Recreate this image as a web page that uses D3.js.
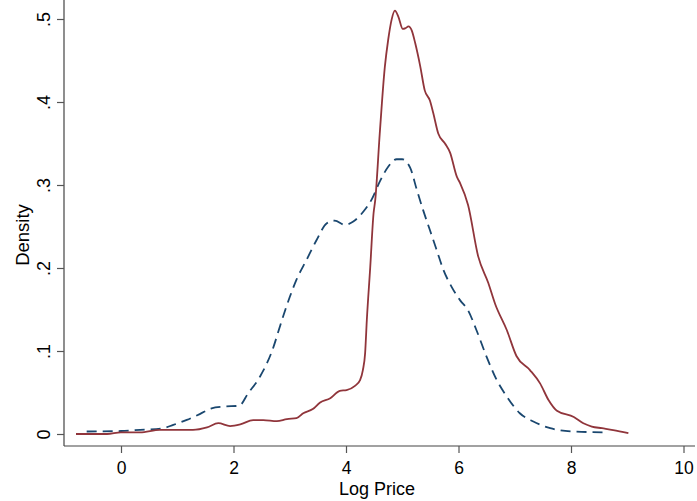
<!DOCTYPE html>
<html>
<head>
<meta charset="utf-8">
<script src="https://cdn.jsdelivr.net/npm/d3@7"></script>
<style>
  body { margin: 0; background: #fff; }
  svg { display: block; font-family: "Liberation Sans", Arial, sans-serif; }
</style>
</head>
<body>
<div id="chart"></div>
<script>
// Kernel density of log price, two groups
const redX = [-0.8, -0.25, 0, 0.34, 0.69, 1.0, 1.28, 1.53, 1.73, 1.94, 2.12, 2.35, 2.53, 2.77, 2.95,
  3.12, 3.24, 3.41, 3.54, 3.72, 3.89, 4.01, 4.16, 4.25, 4.3, 4.34, 4.37, 4.43, 4.49, 4.52, 4.6,
  4.69, 4.75, 4.81, 4.87, 4.93, 5.01, 5.06, 5.11, 5.17, 5.23, 5.32, 5.4, 5.49, 5.55, 5.64, 5.76,
  5.85, 5.97, 6.03, 6.17, 6.35, 6.53, 6.65, 6.86, 7.03, 7.27, 7.45, 7.6, 7.75, 8.05, 8.22, 8.37,
  8.55, 8.75, 9.02];
const redY = [0.0, 0.0, 0.002, 0.002, 0.005, 0.005, 0.005, 0.008, 0.013, 0.0096, 0.0115, 0.0167, 0.0168, 0.0155, 0.018,
  0.019, 0.025, 0.030, 0.038, 0.043, 0.052, 0.053, 0.058, 0.065, 0.077, 0.0975, 0.137, 0.2, 0.266, 0.282, 0.362,
  0.442, 0.475, 0.499, 0.51, 0.503, 0.488, 0.489, 0.491, 0.486, 0.471, 0.443, 0.414, 0.402, 0.387, 0.362, 0.35,
  0.339, 0.31, 0.302, 0.276, 0.214, 0.182, 0.157, 0.125, 0.094, 0.077, 0.061, 0.041, 0.028, 0.0205, 0.013, 0.009,
  0.007, 0.0048, 0.001];

const blueX = [-0.61, 0, 0.34, 0.75, 0.93, 1.17, 1.4, 1.61, 1.82, 2.1, 2.26, 2.47, 2.68, 2.86, 3.0,
  3.12, 3.3, 3.48, 3.66, 3.8, 3.98, 4.13, 4.31, 4.46, 4.6, 4.75, 4.9, 5.0, 5.14, 5.26, 5.37,
  5.49, 5.61, 5.73, 5.88, 6.03, 6.17, 6.32, 6.5, 6.68, 6.86, 7.09, 7.33, 7.63, 8.04, 8.6];
const blueY = [0.003, 0.0036, 0.005, 0.007, 0.011, 0.017, 0.024, 0.031, 0.033, 0.034, 0.049, 0.069, 0.099, 0.137, 0.165,
  0.186, 0.21, 0.234, 0.254, 0.257, 0.252, 0.256, 0.268, 0.283, 0.304, 0.322, 0.331, 0.331, 0.321, 0.294, 0.27,
  0.246, 0.222, 0.198, 0.177, 0.161, 0.149, 0.125, 0.093, 0.065, 0.045, 0.025, 0.015, 0.007, 0.003, 0.002];

const xTicks = [0, 2, 4, 6, 8, 10];
const yTicks = [0, 0.1, 0.2, 0.3, 0.4, 0.5];

const width = 697, height = 501;
const axisX = 64, axisY = 446;

const svg = d3.select('#chart').append('svg')
  .attr('width', width)
  .attr('height', height);

svg.append('rect').attr('width', width).attr('height', height).attr('fill', '#fff');

const x = d3.scaleLinear().domain([0, 10]).range([121, 683.5]);
const y = d3.scaleLinear().domain([0, 0.5]).range([434, 19]);

const line = d3.line()
  .x(d => x(d[0]))
  .y(d => y(d[1]))
  .curve(d3.curveMonotoneX);

// axis lines
svg.append('line')
  .attr('x1', axisX).attr('x2', axisX).attr('y1', 0).attr('y2', axisY)
  .attr('stroke', '#444').attr('stroke-width', 1.2);
svg.append('line')
  .attr('x1', axisX).attr('x2', 695).attr('y1', axisY).attr('y2', axisY)
  .attr('stroke', '#444').attr('stroke-width', 1.2);

// y axis
const yAxis = svg.append('g')
  .attr('transform', `translate(${axisX},0)`)
  .call(d3.axisLeft(y).tickValues(yTicks).tickSize(7).tickSizeOuter(0)
    .tickFormat(d => d === 0 ? '0' : d3.format('.1f')(d).replace(/^0/, '')));
yAxis.select('.domain').remove();
yAxis.selectAll('.tick line').attr('stroke', '#555').attr('stroke-width', 1.2);
yAxis.selectAll('.tick text')
  .attr('x', 0).attr('y', -14).attr('dy', 0)
  .attr('transform', 'rotate(-90)')
  .attr('text-anchor', 'middle')
  .attr('fill', '#000')
  .style('font-size', '18px');

// x axis
const xAxis = svg.append('g')
  .attr('transform', `translate(0,${axisY})`)
  .call(d3.axisBottom(x).tickValues(xTicks).tickSize(7).tickSizeOuter(0).tickFormat(d3.format('d')));
xAxis.select('.domain').remove();
xAxis.selectAll('.tick line').attr('stroke', '#555').attr('stroke-width', 1.2);
xAxis.selectAll('.tick text')
  .attr('y', 27.5).attr('dy', 0)
  .attr('fill', '#000')
  .style('font-size', '17.5px');

// axis titles
svg.append('text')
  .attr('x', 377).attr('y', 495)
  .attr('text-anchor', 'middle')
  .style('font-size', '18px')
  .text('Log Price');

svg.append('text')
  .attr('transform', 'translate(29,235) rotate(-90)')
  .attr('text-anchor', 'middle')
  .style('font-size', '18.5px')
  .text('Density');

// curves
svg.append('path')
  .datum(d3.zip(blueX, blueY))
  .attr('fill', 'none')
  .attr('stroke', '#1a476f')
  .attr('stroke-width', 1.8)
  .attr('stroke-dasharray', '10,6')
  .attr('d', line);

svg.append('path')
  .datum(d3.zip(redX, redY))
  .attr('fill', 'none')
  .attr('stroke', '#90353b')
  .attr('stroke-width', 1.8)
  .attr('d', line);
</script>
</body>
</html>
